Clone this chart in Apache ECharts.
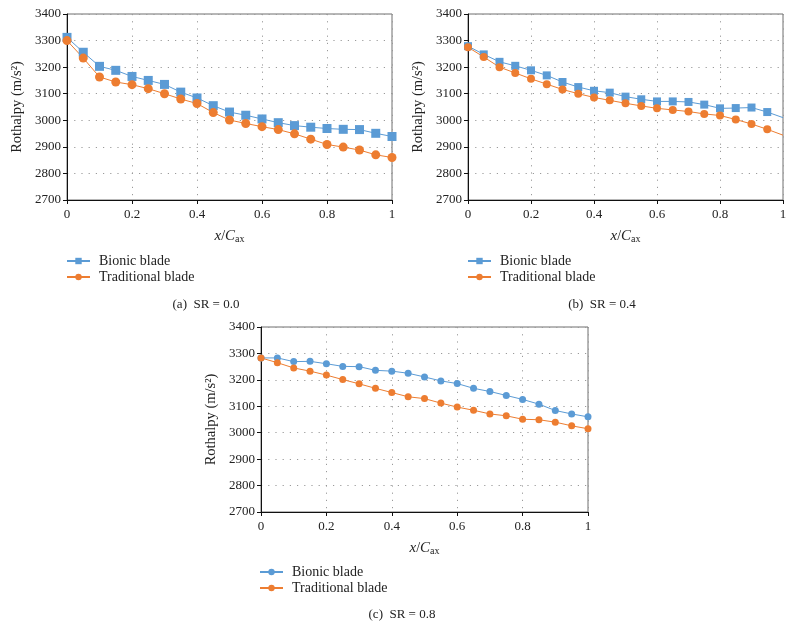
<!DOCTYPE html>
<html>
<head>
<meta charset="utf-8">
<script src="https://cdn.jsdelivr.net/npm/echarts@6/dist/echarts.min.js"></script>
<style>
  html, body { margin: 0; padding: 0; background: #fff; }
  #chart { width: 792px; height: 640px; }
</style>
</head>
<body>
<div id="chart"></div>
<script>
// x positions along the chord (x/Cax)
const xPos = [0, 0.05, 0.1, 0.15, 0.2, 0.25, 0.3, 0.35, 0.4, 0.45, 0.5,
  0.55, 0.6, 0.65, 0.7, 0.75, 0.8, 0.85, 0.9, 0.95, 1]

// (a) SR = 0.0
const aBionic = [3312, 3256, 3203, 3188, 3165, 3150, 3135, 3106, 3084, 3055, 3031,
  3019, 3005, 2991, 2980, 2974, 2969, 2966, 2965, 2951, 2939]
const aTraditional = [3300, 3234, 3163, 3144, 3134, 3119, 3100, 3080, 3063, 3029, 3001,
  2988, 2976, 2965, 2949, 2929, 2909, 2899, 2888, 2870, 2860]

// (b) SR = 0.4  (last point is drawn without marker)
const bBionic = [3279, 3248, 3220, 3205, 3188, 3169, 3144, 3125, 3111, 3104, 3089,
  3079, 3071, 3071, 3069, 3059, 3045, 3046, 3048, 3031, 3010]
const bTraditional = [3275, 3238, 3200, 3178, 3156, 3136, 3116, 3100, 3086, 3075, 3064,
  3054, 3045, 3039, 3033, 3024, 3018, 3003, 2986, 2966, 2944]

// (c) SR = 0.8
const cBionic = [3283, 3283, 3269, 3270, 3261, 3251, 3250, 3236, 3233, 3225, 3211,
  3196, 3186, 3168, 3156, 3141, 3126, 3108, 3084, 3071, 3060]
const cTraditional = [3283, 3265, 3245, 3233, 3218, 3201, 3185, 3168, 3152, 3136, 3129,
  3112, 3097, 3085, 3071, 3064, 3051, 3049, 3040, 3026, 3015]

const captions = ['(a)  SR = 0.0', '(b)  SR = 0.4', '(c)  SR = 0.8']
const seriesNames = ['Bionic blade', 'Traditional blade']
const panelTags = ['a', 'b', 'c']

const blue = '#5b9bd5'
const orange = '#ed7d31'
const font = "'Liberation Serif', 'DejaVu Serif', serif"

const grids = [
  { left: 67, top: 14, width: 325, height: 186 },
  { left: 468, top: 14, width: 315, height: 186 },
  { left: 261, top: 327, width: 327, height: 185 }
]

// each panel gets its own series names so each legend picks its own marker
const tagged = (name, i) => name + ' #' + panelTags[i]

const pairs = (vals, noLastMarker) => vals.map((v, i) => {
  if (noLastMarker && i === vals.length - 1) {
    return { value: [xPos[i], v], symbol: 'none' }
  }
  return [xPos[i], v]
})

function xAxis(i) {
  return {
    type: 'value',
    gridIndex: i,
    min: 0,
    max: 1,
    interval: 0.2,
    name: '{i|x}/{i|C}{s|ax}',
    nameLocation: 'middle',
    nameGap: 28,
    nameTextStyle: {
      fontFamily: font,
      fontSize: 14,
      color: '#222',
      rich: {
        i: { fontFamily: font, fontStyle: 'italic', fontSize: 15, color: '#222' },
        s: { fontFamily: font, fontSize: 10, color: '#222', padding: [6, 0, 0, 0] }
      }
    },
    axisLine: { show: true, onZero: false, lineStyle: { color: '#111', width: 1 } },
    axisTick: { show: true, length: 4, lineStyle: { color: '#111' } },
    axisLabel: {
      color: '#222',
      fontFamily: font,
      fontSize: 13,
      margin: 8,
      formatter: v => String(Math.round(v * 10) / 10)
    },
    splitLine: { show: true, lineStyle: { color: '#9a9a9a', type: [1.2, 6], width: 1 } }
  }
}

function yAxis(i) {
  return {
    type: 'value',
    gridIndex: i,
    min: 2700,
    max: 3400,
    interval: 100,
    name: 'Rothalpy (m/s²)',
    nameLocation: 'middle',
    nameGap: 42,
    nameTextStyle: { fontFamily: font, fontSize: 14.5, color: '#222' },
    axisLine: { show: true, lineStyle: { color: '#111', width: 1 } },
    axisTick: { show: true, length: 4, lineStyle: { color: '#111' } },
    axisLabel: {
      color: '#222',
      fontFamily: font,
      fontSize: 13,
      margin: 6,
      formatter: v => String(v)
    },
    splitLine: { show: true, lineStyle: { color: '#9a9a9a', type: [1.2, 6], width: 1 } }
  }
}

function line(name, i, vals, color, symbol, size, noLastMarker) {
  return {
    name: tagged(name, i),
    type: 'line',
    xAxisIndex: i,
    yAxisIndex: i,
    data: pairs(vals, noLastMarker),
    symbol: symbol,
    symbolSize: size,
    showAllSymbol: true,
    clip: false,
    lineStyle: { color: color, width: 1 },
    itemStyle: { color: color },
    emphasis: { disabled: true },
    animation: false
  }
}

const legendPos = [
  { left: 61, top: 249 },
  { left: 462, top: 249 },
  { left: 254, top: 560 }
]

const legends = legendPos.map((p, i) => ({
  left: p.left,
  top: p.top,
  orient: 'vertical',
  itemWidth: 23,
  itemHeight: 8,
  itemGap: 2,
  selectedMode: false,
  formatter: name => name.replace(/ #[abc]$/, ''),
  textStyle: { fontFamily: font, fontSize: 14, color: '#222', padding: [0, 0, 0, 4] },
  data: seriesNames.map(n => tagged(n, i))
}))

const captionPos = [[201, 293], [597, 293], [397, 603]]

const chart = echarts.init(document.getElementById('chart'), null, { renderer: 'canvas' })
chart.setOption({
  animation: false,
  backgroundColor: '#fff',
  grid: grids.map(g => Object.assign({ show: true, borderColor: '#6e6e6e', borderWidth: 1 }, g)),
  xAxis: [0, 1, 2].map(xAxis),
  yAxis: [0, 1, 2].map(yAxis),
  legend: legends,
  title: captions.map((t, i) => ({
    text: t,
    left: captionPos[i][0],
    top: captionPos[i][1],
    textAlign: 'center',
    textStyle: { fontFamily: font, fontSize: 13, fontWeight: 'normal', color: '#222' }
  })),
  series: [
    line(seriesNames[0], 0, aBionic, blue, 'rect', 9, false),
    line(seriesNames[1], 0, aTraditional, orange, 'circle', 9, false),
    line(seriesNames[0], 1, bBionic, blue, 'rect', 8, true),
    line(seriesNames[1], 1, bTraditional, orange, 'circle', 8, true),
    line(seriesNames[0], 2, cBionic, blue, 'circle', 7, false),
    line(seriesNames[1], 2, cTraditional, orange, 'circle', 7, false)
  ]
})
</script>
</body>
</html>
